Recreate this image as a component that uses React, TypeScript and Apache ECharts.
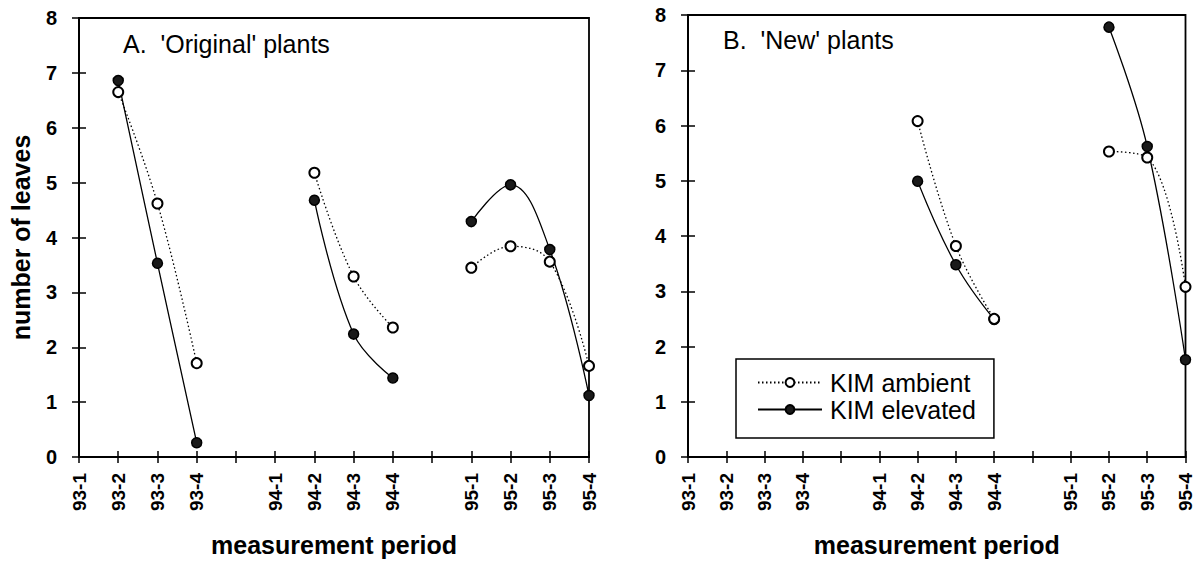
import React, { useEffect, useRef } from "react";
import * as echarts from "echarts";

const categories = ["93-1", "93-2", "93-3", "93-4", "", "94-1", "94-2", "94-3", "94-4", "", "95-1", "95-2", "95-3", "95-4"];

const origAmbient = [null, 6.65, 4.62, 1.71, null, null, 5.18, 3.29, 2.36, null, 3.45, 3.84, 3.56, 1.66];
const origElevated = [null, 6.86, 3.53, 0.26, null, null, 4.68, 2.24, 1.44, null, 4.29, 4.96, 3.78, 1.12];
const newAmbient = [null, null, null, null, null, null, 6.08, 3.82, 2.5, null, null, 5.53, 5.42, 3.08];
const newElevated = [null, null, null, null, null, null, 4.99, 3.48, 2.49, null, null, 7.78, 5.62, 1.76];

const seriesNames = ["KIM ambient", "KIM elevated"];
const panelTitles = ["A.  'Original' plants", "B.  'New' plants"];
const xTitle = "measurement period";
const yTitle = "number of leaves";

const FONT = "'Liberation Sans', Arial, Helvetica, sans-serif";

export default function App() {
  const ref = useRef<HTMLDivElement>(null);
  useEffect(() => {
    if (!ref.current) return;
    const chart = echarts.init(ref.current, undefined, { renderer: "svg" });

    const mkX = (grid: number, main: boolean, withName: boolean) => ({
      type: "category",
      gridIndex: grid,
      position: "bottom",
      data: categories,
      boundaryGap: false,
      name: main && withName ? xTitle : "",
      nameLocation: "middle",
      nameGap: 75,
      nameTextStyle: { fontFamily: FONT, fontSize: 25, fontWeight: "bold", color: "#000" },
      axisLine: { show: main, lineStyle: { color: "#000", width: 2 } },
      axisTick: { show: true, inside: !main, length: 6, interval: 0, lineStyle: { color: "#000", width: 1.5 } },
      axisLabel: {
        show: main,
        interval: 0,
        rotate: 90,
        margin: 16,
        fontFamily: FONT,
        fontSize: 19,
        fontWeight: "bold",
        color: "#000",
      },
      splitLine: { show: false },
    });

    const mkY = (grid: number, main: boolean, withName: boolean) => ({
      type: "value",
      gridIndex: grid,
      position: "left",
      min: 0,
      max: 8,
      interval: 1,
      name: main && withName ? yTitle : "",
      nameLocation: "middle",
      nameGap: 46,
      nameTextStyle: { fontFamily: FONT, fontSize: 25, fontWeight: "bold", color: "#000" },
      axisLine: { show: main, lineStyle: { color: "#000", width: 2 } },
      axisTick: { show: true, inside: !main, length: 7, lineStyle: { color: "#000", width: 1.5 } },
      axisLabel: {
        show: main,
        margin: 22,
        fontFamily: FONT,
        fontSize: 20,
        fontWeight: "bold",
        color: "#000",
      },
      splitLine: { show: false },
    });

    const mkSeries = (name: string, grid: number, data: (number | null)[], ambient: boolean) => ({
      type: "line",
      name,
      xAxisIndex: grid * 2,
      yAxisIndex: grid * 2,
      data,
      connectNulls: false,
      smooth: 0.4,
      symbol: ambient ? "emptyCircle" : "circle",
      symbolSize: 10,
      z: ambient ? 3 : 2,
      lineStyle: { color: "#000", width: 1.3, type: ambient ? [1.5, 2.5] : "solid" },
      itemStyle: { color: ambient ? "#000" : "#1a1a1a", borderColor: "#000", borderWidth: 1.5 },
    });

    chart.setOption({
      animation: false,
      backgroundColor: "#fff",
      grid: [
        { left: 79, top: 18, width: 510, height: 440, show: true, borderColor: "#000", borderWidth: 1.8, containLabel: false },
        { left: 688, top: 15, width: 505, height: 443, show: true, borderColor: "#000", borderWidth: 1.8, containLabel: false },
      ],
      xAxis: [mkX(0, true, true), mkX(0, false, false), mkX(1, true, true), mkX(1, false, false)],
      yAxis: [mkY(0, true, true), mkY(0, false, false), mkY(1, true, false), mkY(1, false, false)],
      legend: {
        data: seriesNames,
        orient: "vertical",
        left: 736,
        top: 359,
        padding: [10, 18, 15, 21],
        itemGap: 0,
        itemWidth: 64,
        itemHeight: 11,
        backgroundColor: "#fff",
        borderColor: "#000",
        borderWidth: 1.5,
        borderRadius: 0,
        selectedMode: false,
        textStyle: { fontFamily: FONT, fontSize: 25, color: "#000", lineHeight: 27, padding: [0, 0, 0, 3] },
      },
      graphic: [
        {
          type: "text",
          left: 123,
          top: 31,
          style: { text: panelTitles[0], fontFamily: FONT, fontSize: 25, fill: "#000" },
        },
        {
          type: "text",
          left: 723,
          top: 27,
          style: { text: panelTitles[1], fontFamily: FONT, fontSize: 25, fill: "#000" },
        },
      ],
      series: [
        mkSeries(seriesNames[1], 0, origElevated, false),
        mkSeries(seriesNames[0], 0, origAmbient, true),
        mkSeries(seriesNames[1], 1, newElevated, false),
        mkSeries(seriesNames[0], 1, newAmbient, true),
      ],
    });
    return () => chart.dispose();
  }, []);
  return <div ref={ref} style={{ position: "absolute", left: 0, top: 0, width: 1195, height: 562 }} />;
}
